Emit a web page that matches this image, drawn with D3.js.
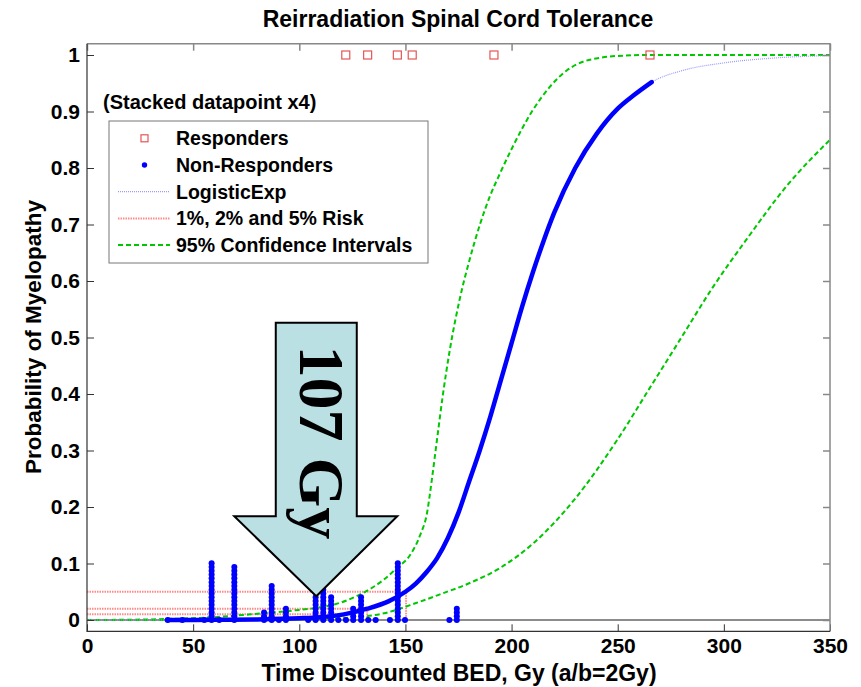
<!DOCTYPE html>
<html>
<head>
<meta charset="utf-8">
<script src="https://cdn.jsdelivr.net/npm/d3@7"></script>
<style>
  body { margin: 0; background: #fff; }
  svg text { font-family: "Liberation Sans", Arial, sans-serif; font-weight: bold; }
</style>
</head>
<body>
<div id="chart"></div>
<script>
// axis ticks
const bedTicks = [0, 50, 100, 150, 200, 250, 300, 350];
const probTicks = [0, 0.1, 0.2, 0.3, 0.4, 0.5, 0.6, 0.7, 0.8, 0.9, 1];

// responders (plotted at p = 1)
const responderBED = [121.9, 132.2, 146.2, 153.2, 191.7, 265.2];

// non-responders (plotted at p = 0, stacked)
const nonRespBED = [38, 44.9, 55.3, 58.7, 62.3, 69.4, 83.4, 87, 90.4, 93.7, 104.2, 107.7, 111.3,
  115, 118.4, 122, 125.4, 129.1, 132.5, 136, 142.7, 146.4, 149.8, 170.7, 174.2];
const nonRespCount = [1, 1, 1, 16, 1, 15, 3, 10, 1, 4, 1, 7, 9,
  7, 1, 1, 4, 7, 1, 1, 1, 16, 1, 1, 4];
const stackStep = 0.0067;

// LogisticExp fit, thick over the data range
const fitBED = [38, 60, 80, 100, 110, 121, 132, 142, 150, 155, 160, 165, 170, 175, 180, 185,
  190, 195, 200, 205, 210, 215, 220, 230, 240, 250, 258, 266];
const fitP = [0, 0.0003, 0.001, 0.003, 0.005, 0.01, 0.02, 0.033, 0.05, 0.065, 0.085, 0.11,
  0.145, 0.19, 0.245, 0.3, 0.36, 0.425, 0.49, 0.555, 0.615, 0.67, 0.72, 0.8, 0.86, 0.905, 0.93, 0.952];
// thin parts of the fit outside the data range
const headBED = [0, 38];
const headP = [0, 0];
const tailBED = [266, 280, 300, 325, 350];
const tailP = [0.952, 0.972, 0.986, 0.995, 0.999];

// 95% confidence intervals
const ciUpBED = [0, 20, 40, 60, 77, 95, 107, 117, 128, 140, 146, 152.2, 156.9, 160.2, 162.5,
  164.9, 167.7, 171, 175.7, 180.4, 185.1, 189.8, 194.5, 200.2, 210.1, 218.1, 226.1, 233.6,
  241.7, 253.4, 265.2, 350];
const ciUpP = [0, 0.0005, 0.002, 0.005, 0.01, 0.016, 0.021, 0.028, 0.044, 0.072, 0.092, 0.115,
  0.15, 0.19, 0.25, 0.32, 0.4, 0.48, 0.57, 0.64, 0.7, 0.75, 0.79, 0.835, 0.903, 0.944, 0.973,
  0.988, 0.995, 0.999, 1, 1];
const ciLoBED = [0, 40, 80, 100, 119, 140, 155, 166, 180, 194.5, 210, 230, 250, 265, 280, 295,
  310, 330, 350];
const ciLoP = [0, 0, 0.0005, 0.0012, 0.003, 0.012, 0.03, 0.045, 0.065, 0.092, 0.135, 0.215,
  0.32, 0.41, 0.5, 0.59, 0.67, 0.77, 0.85];

// risk levels and the dose where the fit reaches them
const riskLevels = [0.01, 0.02, 0.05];
const riskBED = [121, 132, 150.3];

const arrowBED = 108;
const arrowLabel = "107 Gy";

const legendLabels = ["Responders", "Non-Responders", "LogisticExp", "1%, 2% and 5% Risk", "95% Confidence Intervals"];

const W = 861, H = 687;
const mLeft = 87, mRight = 830, mTop = 43.7, mBottom = 631.3;

const svg = d3.select("#chart").append("svg")
  .attr("width", W).attr("height", H);

const x = d3.scaleLinear().domain([0, 350]).range([mLeft, mRight]);
const y = d3.scaleLinear().domain([-0.02, 1.02]).range([mBottom, mTop]);

const line = d3.line().x(d => x(d[0])).y(d => y(d[1])).curve(d3.curveMonotoneX);
const pairs = (a, b) => a.map((v, i) => [v, b[i]]);

const plot = svg.append("g");

// risk lines
riskLevels.forEach((r, i) => {
  plot.append("path")
    .attr("d", `M${x(0)},${y(r)}H${x(riskBED[i])}V${y(0)}`)
    .attr("fill", "none")
    .attr("stroke", "#ff8a8a")
    .attr("stroke-width", 2)
    .attr("stroke-dasharray", "1.5,1");
});

// zero line
plot.append("line")
  .attr("x1", x(0)).attr("x2", x(350))
  .attr("y1", y(0)).attr("y2", y(0))
  .attr("stroke", "#8c8c8c").attr("stroke-width", 2);

// confidence intervals
[pairs(ciUpBED, ciUpP), pairs(ciLoBED, ciLoP)].forEach(d => {
  plot.append("path")
    .attr("d", line(d))
    .attr("fill", "none")
    .attr("stroke", "#00c800")
    .attr("stroke-width", 2)
    .attr("stroke-dasharray", "5,3");
});

// fit, thin dotted over the whole range, thick over the data
plot.append("path")
  .attr("d", line(pairs(headBED, headP).concat(pairs(fitBED, fitP).slice(1), pairs(tailBED, tailP).slice(1))))
  .attr("fill", "none")
  .attr("stroke", "#9a9aff")
  .attr("stroke-width", 1.2)
  .attr("stroke-dasharray", "1,1");

plot.append("path")
  .attr("d", line(pairs(fitBED, fitP)))
  .attr("fill", "none")
  .attr("stroke", "#0000ff")
  .attr("stroke-width", 4.5)
  .attr("stroke-linecap", "round");

// non-responder dots
const dots = [];
nonRespBED.forEach((b, i) => {
  for (let k = 0; k < nonRespCount[i]; k++) dots.push([b, k * stackStep]);
});
plot.selectAll(".dot")
  .data(dots)
  .join("circle")
  .attr("class", "dot")
  .attr("cx", d => x(d[0]))
  .attr("cy", d => y(d[1]))
  .attr("r", 3)
  .attr("fill", "#0000ff");

// responders
plot.selectAll(".resp")
  .data(responderBED)
  .join("rect")
  .attr("class", "resp")
  .attr("x", d => x(d) - 4)
  .attr("y", y(1) - 4)
  .attr("width", 8).attr("height", 8)
  .attr("fill", "none")
  .attr("stroke", "#e65555")
  .attr("stroke-width", 1.2);

// arrow annotation
const tx = x(arrowBED), ty = y(0.042);
plot.append("path")
  .attr("d", `M${tx},${ty}L${tx - 82},${ty - 80}H${tx - 40.5}V${ty - 273.4}H${tx + 40.5}V${ty - 80}H${tx + 81}Z`)
  .attr("fill", "#bbe0e4")
  .attr("stroke", "#000")
  .attr("stroke-width", 2);

plot.append("text")
  .attr("transform", `translate(${tx - 16},${ty - 154}) rotate(90)`)
  .attr("text-anchor", "middle")
  .style("font-family", '"Liberation Serif", "Times New Roman", serif')
  .style("font-size", "64px")
  .text(arrowLabel);

// axes
const axB = svg.append("g").attr("transform", `translate(0,${mBottom})`)
  .call(d3.axisBottom(x).tickValues(bedTicks).tickSizeInner(-7).tickSizeOuter(0).tickPadding(7));
const axL = svg.append("g").attr("transform", `translate(${mLeft},0)`)
  .call(d3.axisLeft(y).tickValues(probTicks).tickSizeInner(-7).tickSizeOuter(0).tickPadding(7)
    .tickFormat(d3.format("")));
const axT = svg.append("g").attr("transform", `translate(0,${mTop})`)
  .call(d3.axisTop(x).tickValues(bedTicks).tickSizeInner(-7).tickSizeOuter(0).tickFormat(""));
const axR = svg.append("g").attr("transform", `translate(${mRight},0)`)
  .call(d3.axisRight(y).tickValues(probTicks).tickSizeInner(-7).tickSizeOuter(0).tickFormat(""));

[axB, axL].forEach(a => {
  a.select(".domain").remove();
  a.selectAll("line").attr("stroke", "#333");
  a.selectAll("text").style("font-size", "21px").attr("fill", "#000");
});
[axT, axR].forEach(a => {
  a.select(".domain").remove();
  a.selectAll("line").attr("stroke", "#888").attr("stroke-width", 1.5);
});

// frame
svg.append("path").attr("d", `M${mLeft},${mTop}H${mRight}V${mBottom}`)
  .attr("fill", "none").attr("stroke", "#888").attr("stroke-width", 1.5);
svg.append("path").attr("d", `M${mLeft},${mTop}V${mBottom}H${mRight}`)
  .attr("fill", "none").attr("stroke", "#333").attr("stroke-width", 1.2);

// legend
svg.append("text").attr("x", 103).attr("y", 109)
  .style("font-size", "20px").text("(Stacked datapoint x4)");

const lg = svg.append("g");
lg.append("rect").attr("x", 109).attr("y", 121).attr("width", 319).attr("height", 142)
  .attr("fill", "#fff").attr("stroke", "#777").attr("stroke-width", 1);

const rowY = i => 138.3 + i * 26.7;
lg.append("rect").attr("x", 141).attr("y", rowY(0) - 3.5).attr("width", 7).attr("height", 7)
  .attr("fill", "none").attr("stroke", "#e65555").attr("stroke-width", 1.2);
lg.append("circle").attr("cx", 144.5).attr("cy", rowY(1)).attr("r", 2.7).attr("fill", "#0000ff");
lg.append("line").attr("x1", 118).attr("x2", 170).attr("y1", rowY(2)).attr("y2", rowY(2))
  .attr("stroke", "#9a9aff").attr("stroke-width", 1.2).attr("stroke-dasharray", "1,1");
lg.append("line").attr("x1", 118).attr("x2", 170).attr("y1", rowY(3)).attr("y2", rowY(3))
  .attr("stroke", "#ff8a8a").attr("stroke-width", 2).attr("stroke-dasharray", "1.5,1");
lg.append("line").attr("x1", 118).attr("x2", 170).attr("y1", rowY(4)).attr("y2", rowY(4))
  .attr("stroke", "#00c800").attr("stroke-width", 2).attr("stroke-dasharray", "5,3");

lg.selectAll(".lt").data(legendLabels).join("text")
  .attr("class", "lt")
  .attr("x", 176).attr("y", (d, i) => rowY(i)).attr("dy", "0.36em")
  .style("font-size", "19.5px").text(d => d);

// titles
svg.append("text").attr("x", 458).attr("y", 27).attr("text-anchor", "middle")
  .style("font-size", "23px").text("Reirradiation Spinal Cord Tolerance");
svg.append("text").attr("x", 459).attr("y", 681).attr("text-anchor", "middle")
  .style("font-size", "23px").text("Time Discounted BED, Gy (a/b=2Gy)");
svg.append("text").attr("transform", `translate(41,337) rotate(-90)`).attr("text-anchor", "middle")
  .style("font-size", "22.5px").text("Probability of Myelopathy");
</script>
</body>
</html>
